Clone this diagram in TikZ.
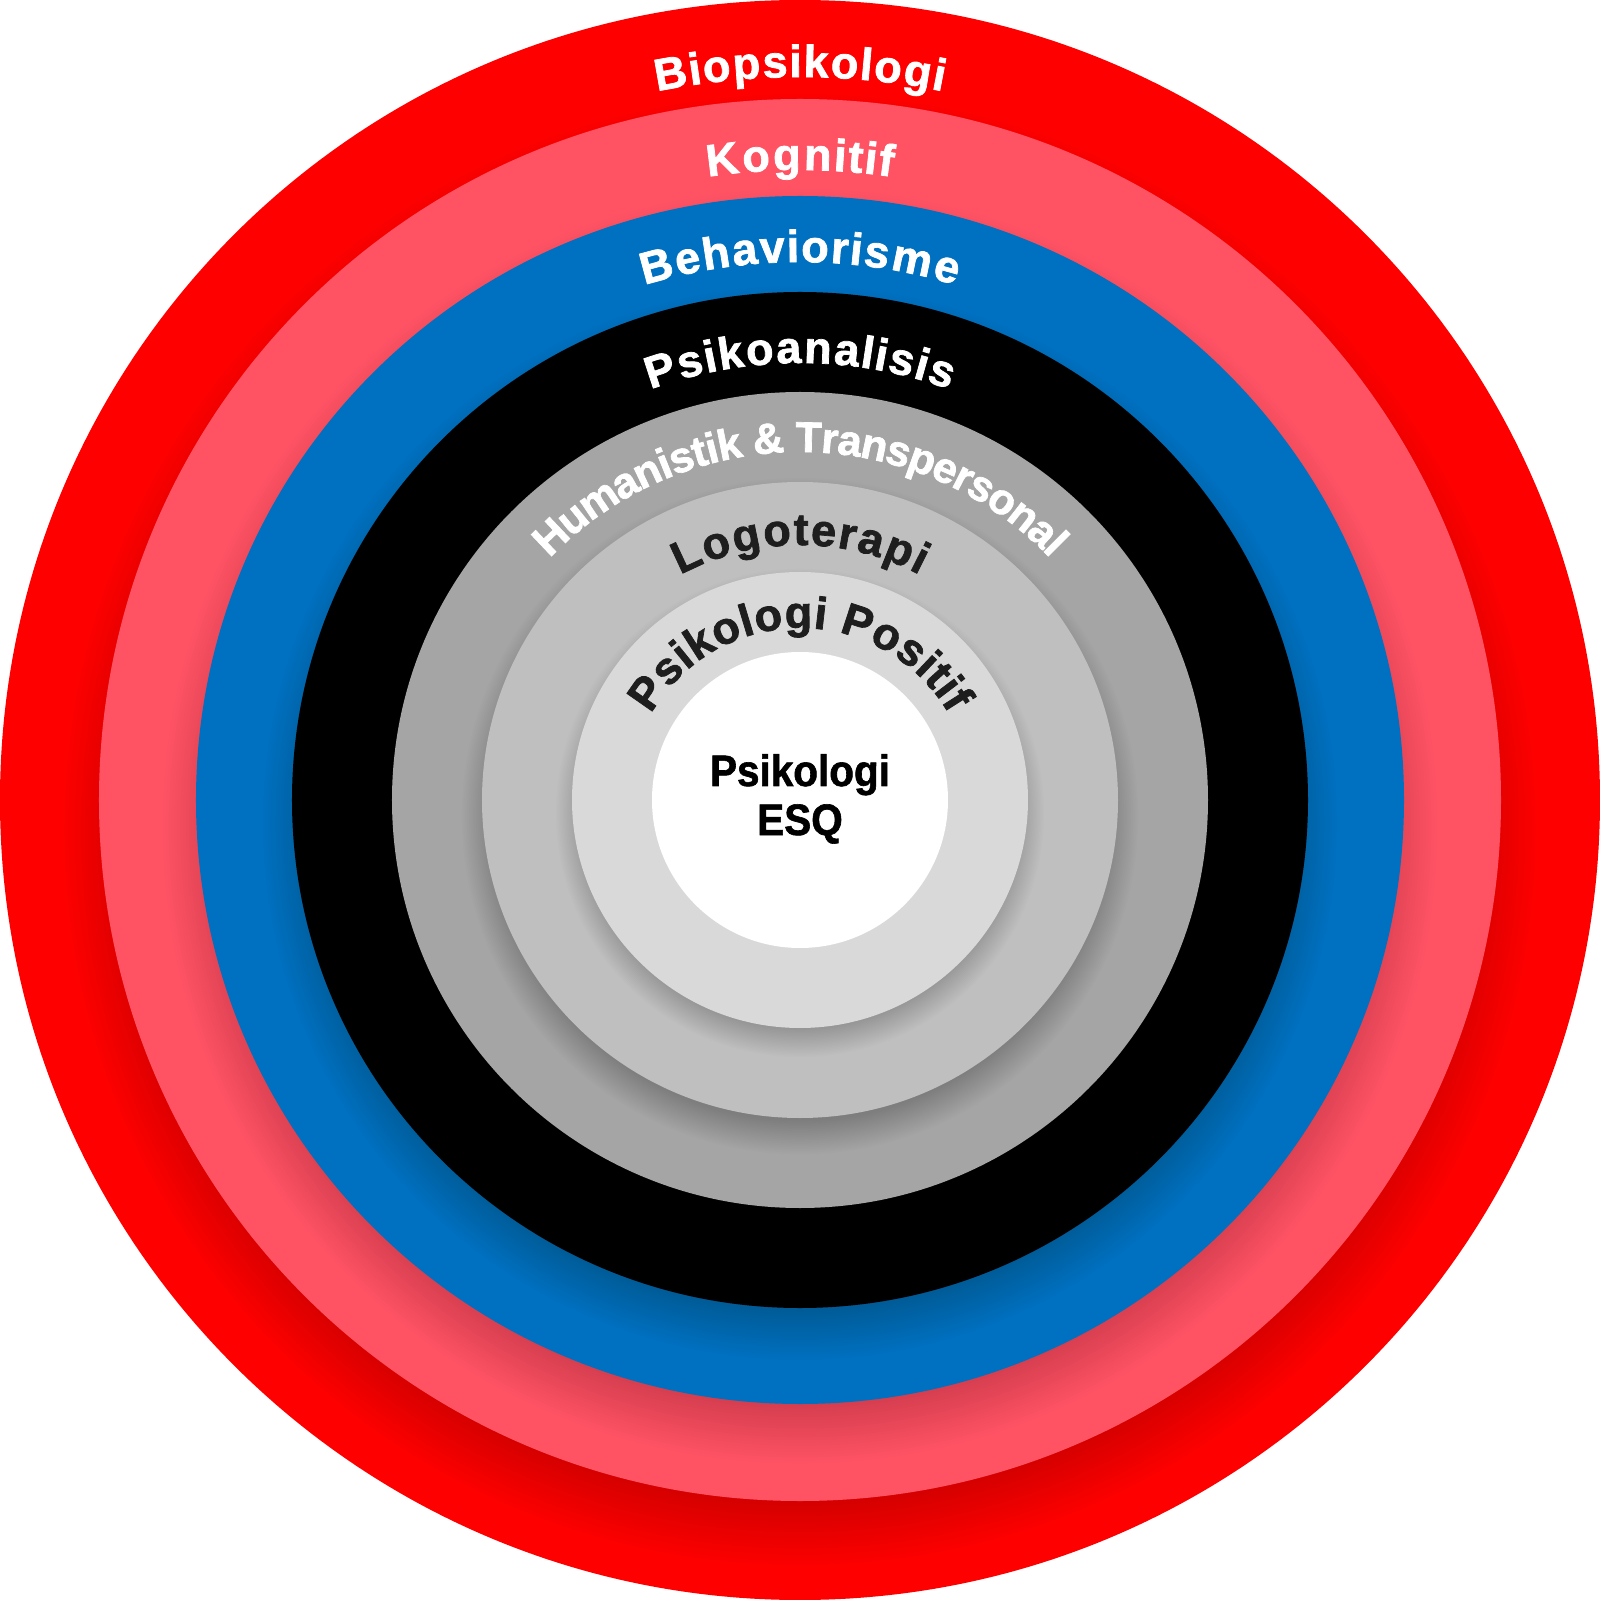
\documentclass[tikz,border=0pt]{standalone}
\usepackage{fontspec}
\newfontfamily\lblfamily{Liberation Sans}[BoldFeatures={FakeBold=1.6}]
\newfontfamily\esqfamily{Liberation Sans}[FakeStretch=0.92,BoldFeatures={FakeBold=1.4}]
\usetikzlibrary{decorations.text}
\definecolor{cRed}{HTML}{FF0000}
\definecolor{cPink}{HTML}{FF5364}
\definecolor{cBlue}{HTML}{0070C0}
\definecolor{cDark}{HTML}{A5A5A5}
\definecolor{cMid}{HTML}{BFBFBF}
\definecolor{cLight}{HTML}{D9D9D9}
\definecolor{cInk}{HTML}{1E1E1E}
\newcommand\lblfont{\lblfamily\bfseries\fontsize{22.5}{27}\selectfont}
\newcommand\humfont{\lblfamily\bfseries\fontsize{21.5}{26}\selectfont}
\newcommand\esqfont{\esqfamily\bfseries\fontsize{22}{26}\selectfont}
\newcommand\shadowring[1]{%
  \pgfmathsetmacro\sho{0.035*#1+5}%
  \pgfmathsetmacro\shs{0.09*#1+12}%
  \foreach \k in {0,...,23}{%
    \pgfmathsetmacro\shr{#1-0.5*\shs+\k*\shs/23}%
    \fill[black, fill opacity=0.0095] (0,-\sho) circle[radius=\shr];
  }%
}
\newcommand\arclabel[5]{%
  \begin{scope}[font=#5, text=#4]
  \path[decorate, decoration={text effects along path, text={#3},
      text effects/.cd, text along path, fit text to path}]
    (90+#2:#1) arc[start angle=90+#2, end angle=90-#2, radius=#1];
  \end{scope}}
\begin{document}
\begin{tikzpicture}[x=0.5pt,y=0.5pt]
\useasboundingbox (-800,-800) rectangle (800,800);
\fill[cRed] (0,0) circle[radius=800];
\shadowring{701}
\fill[cPink] (0,0) circle[radius=701];
\shadowring{604}
\fill[cBlue] (0,0) circle[radius=604];
\shadowring{508}
\fill[black] (0,0) circle[radius=508];
\shadowring{408}
\fill[cDark] (0,0) circle[radius=408];
\shadowring{318}
\fill[cMid] (0,0) circle[radius=318];
\shadowring{228}
\fill[cLight] (0,0) circle[radius=228];
\fill[white] (0,0) circle[radius=148];
\arclabel{723}{11.4}{Biopsikologi}{white}{\lblfont}
\arclabel{630}{8.4}{Kognitif}{white}{\lblfont}
\arclabel{538}{16.8}{Behaviorisme}{white}{\lblfont}
\arclabel{437}{20}{Psikoanalisis}{white}{\lblfont}
\arclabel{348}{46}{Humanistik \& Transpersonal}{white}{\humfont}
\arclabel{255}{28}{Logoterapi}{cInk}{\lblfont}
\arclabel{172}{60}{Psikologi Positif}{cInk}{\lblfont}
\node[font=\esqfont, text=black, anchor=base, inner sep=0pt] (esqa) at (0,14) {Psikologi};
\node[font=\esqfont, text=black, anchor=base, inner sep=0pt] (esqb) at (0,-35) {ESQ};
\end{tikzpicture}
\end{document}
